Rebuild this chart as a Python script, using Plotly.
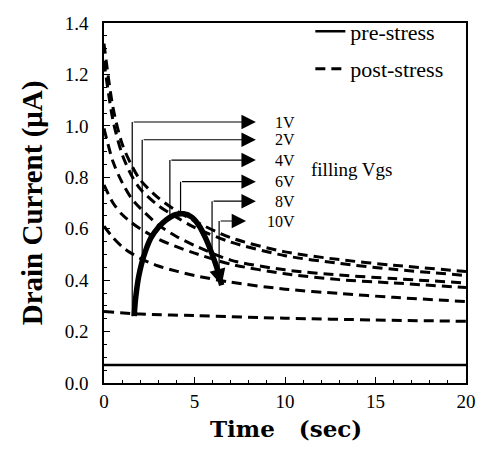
import plotly.graph_objects as go
import numpy as np

# ---------------- data ----------------
t_pts = [0, 0.5, 1, 1.5, 2, 3, 4, 5, 7, 10, 13, 16, 20]
post_A = [1.32, 1.07, 0.93, 0.85, 0.79, 0.72, 0.67, 0.63, 0.565, 0.51, 0.48, 0.458, 0.434]
post_B = [1.25, 1.02, 0.89, 0.81, 0.755, 0.69, 0.645, 0.605, 0.548, 0.495, 0.465, 0.442, 0.418]
post_C = [0.99, 0.86, 0.78, 0.72, 0.68, 0.615, 0.57, 0.535, 0.478, 0.44, 0.42, 0.406, 0.389]
post_D = [0.77, 0.70, 0.655, 0.625, 0.60, 0.56, 0.53, 0.505, 0.462, 0.425, 0.402, 0.389, 0.371]
post_E = [0.61, 0.565, 0.53, 0.505, 0.485, 0.455, 0.435, 0.418, 0.392, 0.365, 0.348, 0.333, 0.317]
flat_t = [0, 2, 5, 10, 15, 20]
post_F = [0.278, 0.268, 0.262, 0.252, 0.245, 0.24]
pre_t = [0, 20]
pre_I = [0.07, 0.07]

arc_t = [1.67, 1.72, 1.8, 1.92, 2.08, 2.3, 2.6, 3.0, 3.45, 3.95, 4.4, 4.85, 5.25, 5.6, 5.95, 6.25, 6.5]
arc_I = [0.26, 0.31, 0.36, 0.415, 0.465, 0.515, 0.565, 0.605, 0.635, 0.655, 0.658, 0.645, 0.612, 0.565, 0.505, 0.445, 0.38]

vgs_labels = ["1V", "2V", "4V", "6V", "8V", "10V"]
vgs_t = [1.56, 2.11, 3.64, 4.23, 5.97, 6.36]
vgs_level = [1.015, 0.946, 0.867, 0.783, 0.707, 0.63]
vgs_tip = [8.39, 8.39, 8.39, 8.39, 8.39, 7.85]

x_ticks = [0, 5, 10, 15, 20]
y_ticks = [0.0, 0.2, 0.4, 0.6, 0.8, 1.0, 1.2, 1.4]

# ---------------- figure ----------------
SERIF = "Liberation Serif"
fig = go.Figure()

fig.add_trace(go.Scatter(x=pre_t, y=pre_I, mode="lines", name="pre-stress",
                         line=dict(color="black", width=2.5), legendgroup="pre"))

dash_style = dict(color="black", width=3, dash="10px,6px")
first = True
for ys, xs in [(post_A, t_pts), (post_B, t_pts), (post_C, t_pts), (post_D, t_pts),
               (post_E, t_pts), (post_F, flat_t)]:
    fig.add_trace(go.Scatter(x=xs, y=ys, mode="lines", name="post-stress",
                             line=dict(shape="spline", smoothing=0.8, **dash_style),
                             showlegend=first, legendgroup="post"))
    first = False

# thick arc
fig.add_trace(go.Scatter(x=arc_t, y=arc_I, mode="lines", showlegend=False,
                         line=dict(color="black", width=5.5, shape="spline", smoothing=1.0)))

# vertical lines from arc up to arrow level
for tv, lv in zip(vgs_t, vgs_level):
    bottom = float(np.interp(tv, arc_t, arc_I))
    fig.add_trace(go.Scatter(x=[tv, tv], y=[bottom, lv], mode="lines", showlegend=False,
                             line=dict(color="black", width=1.2)))

annotations = []
for lab, tv, lv, tip in zip(vgs_labels, vgs_t, vgs_level, vgs_tip):
    annotations.append(dict(x=tip, y=lv, ax=tv, ay=lv, xref="x", yref="y",
                            axref="x", ayref="y", text="", showarrow=True,
                            arrowhead=2, arrowsize=2.4, arrowwidth=1.2, arrowcolor="black",
                            standoff=0, startstandoff=0))
    annotations.append(dict(x=10.65, y=lv, xref="x", yref="y", text=lab, showarrow=False,
                            xanchor="right", yanchor="middle",
                            font=dict(family=SERIF, size=16, color="black")))
annotations.append(dict(x=11.3, y=0.832, xref="x", yref="y", text="filling Vgs",
                        showarrow=False, xanchor="left", yanchor="middle",
                        font=dict(family=SERIF, size=19, color="black")))
# arrowhead at end of arc
annotations.append(dict(x=arc_t[-1], y=arc_I[-1], ax=arc_t[-2], ay=arc_I[-2],
                        xref="x", yref="y", axref="x", ayref="y", text="", showarrow=True,
                        arrowhead=2, arrowsize=1.3, arrowwidth=2.5, arrowcolor="black",
                        standoff=0))
# x-axis title
annotations.append(dict(x=0.503, y=-0.125, xref="paper", yref="paper",
                        text="Time&nbsp;&nbsp;&nbsp;(sec)", showarrow=False,
                        xanchor="center", yanchor="middle",
                        font=dict(family="DejaVu Serif", size=23, color="black",
                                  weight="bold")))

axis_common = dict(showline=True, linecolor="black", linewidth=1.5, mirror=True,
                   ticks="inside", ticklen=6, tickwidth=1.2, tickcolor="black",
                   showgrid=False, zeroline=False,
                   tickfont=dict(family=SERIF, size=19, color="black"))

fig.update_layout(
    width=486, height=451,
    margin=dict(l=104, r=10, t=16, b=68),
    paper_bgcolor="white", plot_bgcolor="white",
    showlegend=True,
    legend=dict(x=0.57, y=1.035, xanchor="left", yanchor="top",
                bgcolor="rgba(0,0,0,0)", tracegroupgap=6,
                font=dict(family=SERIF, size=22, color="black")),
    annotations=annotations,
    xaxis=dict(range=[0, 20], tickvals=x_ticks, ticktext=[str(v) for v in x_ticks],
               minor=dict(dtick=1, ticks="inside", ticklen=3, tickcolor="black"),
               **axis_common),
    yaxis=dict(range=[0, 1.4], tickvals=y_ticks, ticktext=[f"{v:.1f}" for v in y_ticks],
               minor=dict(dtick=0.05, ticks="inside", ticklen=3, tickcolor="black"),
               ticklabelstandoff=10,
               title=dict(text="Drain Current (μA)", standoff=14,
                          font=dict(family=SERIF, size=29, color="black", weight="bold")),
               **axis_common),
)

fig.write_html("out.html")
